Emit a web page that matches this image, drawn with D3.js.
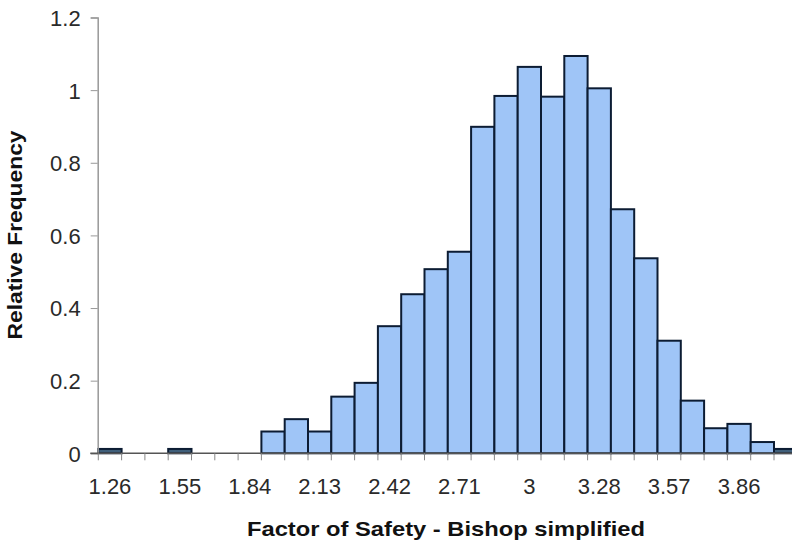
<!DOCTYPE html>
<html>
<head>
<meta charset="utf-8">
<script src="https://cdn.jsdelivr.net/npm/d3@7/dist/d3.min.js"></script>
<style>
  html, body { margin: 0; padding: 0; background: #fff; }
  #chart { width: 792px; height: 544px; overflow: hidden; }
  .axis text { font-family: "Liberation Sans", Arial, sans-serif; font-size: 22px; fill: #2a2a2a; }
  .axis-label { font-family: "Liberation Sans", Arial, sans-serif; font-size: 21px; font-weight: bold; fill: #111; }
</style>
</head>
<body>
<div id="chart"></div>
<script>
// Bin centres (factor of safety), one per bar
const categories = ["1.26", "1.36", "1.45", "1.55", "1.65", "1.75", "1.84", "1.94", "2.04", "2.13",
                    "2.23", "2.33", "2.42", "2.52", "2.62", "2.71", "2.81", "2.91", "3", "3.1",
                    "3.19", "3.28", "3.38", "3.48", "3.57", "3.67", "3.77", "3.86", "3.96", "4.06"];

// Relative frequency
const frequencies = [0.012, 0, 0, 0.012, 0, 0, 0, 0.06, 0.094, 0.06,
                     0.156, 0.194, 0.35, 0.438, 0.507, 0.555, 0.899, 0.984, 1.064, 0.982,
                     1.094, 1.005, 0.672, 0.537, 0.31, 0.145, 0.069, 0.081, 0.031, 0.012];

// Only every third category gets a label
const tickLabels = ["1.26", "1.55", "1.84", "2.13", "2.42", "2.71", "3", "3.28", "3.57", "3.86"];
const yTicks = [0, 0.2, 0.4, 0.6, 0.8, 1, 1.2];

const W = 792, H = 544;
const plotLeft = 98.3, bandW = 23.3;
const plotTop = 17.5, plotBottom = 453.3;

const svg = d3.select("#chart").append("svg")
    .attr("width", W)
    .attr("height", H);

const x = d3.scaleBand()
    .domain(categories)
    .range([plotLeft, plotLeft + bandW * categories.length])
    .padding(0);

const y = d3.scaleLinear()
    .domain([0, 1.2])
    .range([plotBottom, plotTop]);

// bars
svg.append("g").selectAll("rect")
    .data(frequencies)
    .enter()
    .append("rect")
    .attr("x", (d, i) => x(categories[i]))
    .attr("y", d => y(d))
    .attr("width", x.bandwidth())
    .attr("height", d => y(0) - y(d))
    .attr("fill", d => d > 0.02 ? "#9fc5f7" : "#3f5f7a")
    .attr("stroke", "#0c1c33")
    .attr("stroke-width", 2);

// y axis
const yAxis = svg.append("g")
    .attr("class", "axis")
    .attr("transform", `translate(${plotLeft - 0.6},0)`)
    .call(d3.axisLeft(y).tickValues(yTicks).tickSize(7).tickPadding(10).tickFormat(d3.format("")));
yAxis.select(".domain").attr("stroke", "#999").attr("stroke-width", 1.5);
yAxis.selectAll(".tick line").attr("stroke", "#999");
yAxis.selectAll(".tick text").attr("dy", "0.36em");

// x axis: tick marks on bin boundaries, labels on every third bin centre
const xAxis = svg.append("g").attr("class", "axis");
xAxis.append("line")
    .attr("x1", plotLeft - 8).attr("x2", W)
    .attr("y1", y(0)).attr("y2", y(0))
    .attr("stroke", "#555")
    .attr("stroke-width", 1.5);

xAxis.selectAll(".xtick")
    .data(categories)
    .enter()
    .append("line")
    .attr("class", "xtick")
    .attr("x1", d => x(d)).attr("x2", d => x(d))
    .attr("y1", y(0)).attr("y2", y(0) + 7)
    .attr("stroke", "#888");

xAxis.selectAll(".xlabel")
    .data(tickLabels)
    .enter()
    .append("text")
    .attr("class", "xlabel")
    .attr("text-anchor", "middle")
    .attr("x", d => x(d) + x.bandwidth() / 2)
    .attr("y", 494)
    .text(d => d);

// axis titles
svg.append("text")
    .attr("class", "axis-label")
    .attr("text-anchor", "middle")
    .attr("x", 446)
    .attr("y", 536)
    .attr("textLength", 398)
    .attr("lengthAdjust", "spacingAndGlyphs")
    .text("Factor of Safety - Bishop simplified");

svg.append("text")
    .attr("class", "axis-label")
    .attr("text-anchor", "middle")
    .attr("transform", "rotate(-90)")
    .attr("x", -235)
    .attr("y", 22)
    .attr("textLength", 209)
    .attr("lengthAdjust", "spacingAndGlyphs")
    .text("Relative Frequency");
</script>
</body>
</html>
